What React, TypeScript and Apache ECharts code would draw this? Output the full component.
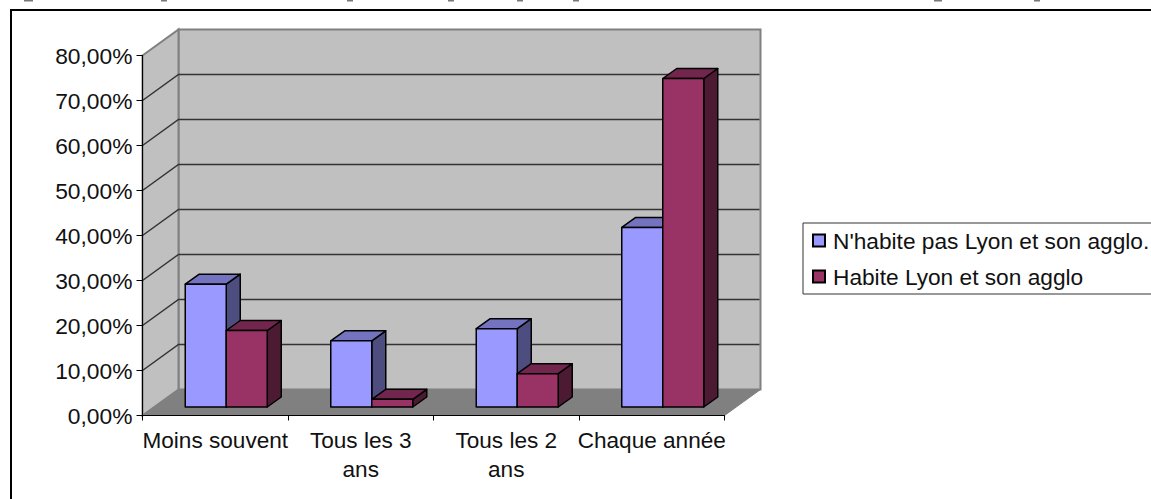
import React, { useEffect, useRef } from "react";
import * as echarts from "echarts";

const categories = ["Moins souvent", "Tous les 3\nans", "Tous les 2\nans", "Chaque année"];
const seriesNames = ["N'habite pas Lyon et son agglo.", "Habite Lyon et son agglo"];
const outsideLyon = [27.3, 14.7, 17.4, 39.9];
const lyon = [17.0, 1.7, 7.4, 73.0];
const yTicks = [0, 10, 20, 30, 40, 50, 60, 70, 80];
const yTickLabels = ["0,00%", "10,00%", "20,00%", "30,00%", "40,00%", "50,00%", "60,00%", "70,00%", "80,00%"];

const FONT = '"Liberation Sans", Arial, sans-serif';
const WALL_DX = 36;
const WALL_DY = 26;
const BAR_SHIFT_X = 11;
const BAR_SHIFT_Y = 8.5;
const BAR_DX = 14;
const BAR_DY = 10;
const BAR_RATIO = 41 / 145.5;

const wallsItem = (params: any, api: any) => {
  const cs = params.coordSys;
  const l = cs.x, r = cs.x + cs.width, t = cs.y, b = cs.y + cs.height;
  const gray = "#808080";
  const children: any[] = [
    { type: "polygon", shape: { points: [[l + WALL_DX, t - WALL_DY], [r + WALL_DX, t - WALL_DY], [r + WALL_DX, b - WALL_DY], [l + WALL_DX, b - WALL_DY]] }, style: { fill: "#C0C0C0", stroke: gray, lineWidth: 2 } },
    { type: "polygon", shape: { points: [[l, t], [l + WALL_DX, t - WALL_DY], [l + WALL_DX, b - WALL_DY], [l, b]] }, style: { fill: "#C0C0C0", stroke: gray, lineWidth: 2 } },
    { type: "polygon", shape: { points: [[l, b], [l + WALL_DX, b - WALL_DY], [r + WALL_DX, b - WALL_DY], [r, b]] }, style: { fill: gray, stroke: gray, lineWidth: 1 } },
  ];
  yTicks.slice(1, -1).forEach((v) => {
    const y = api.coord([0, v])[1];
    children.push({ type: "polyline", shape: { points: [[l, y], [l + WALL_DX, y - WALL_DY], [r + WALL_DX - 1, y - WALL_DY]] }, style: { fill: "none", stroke: "#333", lineWidth: 1.5 } });
  });
  return { type: "group", children };
};

const barItem = (side: number, front: string, top: string, right: string) => (_: any, api: any) => {
  const c = api.value(0);
  const p = api.coord([c, api.value(1)]);
  const base = api.coord([c, 0]);
  const w = api.size([1, 0])[0] * BAR_RATIO;
  const x0 = p[0] + BAR_SHIFT_X + (side < 0 ? -w : 0);
  const x1 = x0 + w;
  const yT = p[1] - BAR_SHIFT_Y;
  const yB = base[1] - BAR_SHIFT_Y;
  const stroke = { stroke: "#000", lineWidth: 1.5, lineJoin: "round" };
  return {
    type: "group",
    children: [
      { type: "polygon", shape: { points: [[x1, yT], [x1 + BAR_DX, yT - BAR_DY], [x1 + BAR_DX, yB - BAR_DY], [x1, yB]] }, style: { fill: right, ...stroke } },
      { type: "polygon", shape: { points: [[x0, yT], [x0 + BAR_DX, yT - BAR_DY], [x1 + BAR_DX, yT - BAR_DY], [x1, yT]] }, style: { fill: top, ...stroke } },
      { type: "polygon", shape: { points: [[x0, yT], [x1, yT], [x1, yB], [x0, yB]] }, style: { fill: front, ...stroke } },
    ],
  };
};

const clippedDescenders = [
  [24, 9, 1.5], [161, 6, 1.5], [347, 6, 1.5], [448, 6, 1.5], [517, 6, 1.5], [573, 6, 1.5], [934, 8, 1.5], [1034, 6, 1.5],
];

export default function App() {
  const ref = useRef<HTMLDivElement>(null);
  useEffect(() => {
    const chart = echarts.init(ref.current!, undefined, { renderer: "svg" });
    chart.setOption({
      animation: false,
      backgroundColor: "#fff",
      grid: { left: 142.5, top: 55.5, width: 582, height: 360, containLabel: false },
      legend: {
        data: seriesNames,
        orient: "vertical",
        left: 812,
        top: 229,
        padding: 0,
        itemWidth: 12,
        itemHeight: 12,
        itemGap: 13,
        icon: "rect",
        textStyle: { fontFamily: FONT, fontSize: 22.7, color: "#111", padding: [0, 0, 0, 3] },
      },
      xAxis: {
        type: "category",
        data: categories,
        z: 5,
        axisLine: { lineStyle: { color: "#000", width: 1 } },
        axisTick: { show: true, length: 5, alignWithLabel: false, lineStyle: { color: "#000" } },
        axisLabel: { interval: 0, margin: 10, fontFamily: FONT, fontSize: 22.6, color: "#111", lineHeight: 29 },
      },
      yAxis: {
        type: "value",
        min: 0,
        max: 80,
        interval: 10,
        z: 5,
        splitLine: { show: false },
        axisLine: { show: true, lineStyle: { color: "#000", width: 1 } },
        axisTick: { show: true, length: 6, lineStyle: { color: "#000" } },
        axisLabel: {
          margin: 10,
          fontFamily: FONT,
          fontSize: 22.8,
          color: "#111",
          formatter: (v: number) => yTickLabels[yTicks.indexOf(v)],
        },
      },
      series: [
        { type: "custom", name: "walls", z: 1, silent: true, clip: false, renderItem: wallsItem, data: [[0, 0]], encode: { x: 0, y: 1 } },
        {
          type: "custom", name: seriesNames[0], z: 2, clip: false,
          itemStyle: { color: "#9999FF", borderColor: "#000", borderWidth: 1.5 },
          renderItem: barItem(-1, "#9999FF", "#7373BF", "#4D4D80"),
          data: outsideLyon.map((v, i) => [i, v]), encode: { x: 0, y: 1 },
        },
        {
          type: "custom", name: seriesNames[1], z: 3, clip: false,
          itemStyle: { color: "#993366", borderColor: "#000", borderWidth: 1.5 },
          renderItem: barItem(1, "#993366", "#73264D", "#4D1A33"),
          data: lyon.map((v, i) => [i, v]), encode: { x: 0, y: 1 },
        },
      ],
      graphic: [
        { type: "rect", z: 100, shape: { x: 11, y: 10, width: 1200, height: 600 }, style: { fill: "none", stroke: "#000", lineWidth: 2 } },
        { type: "rect", z: 0, shape: { x: 803, y: 223, width: 400, height: 71 }, style: { fill: "#fff", stroke: "#333", lineWidth: 1 } },
        ...clippedDescenders.map(([x, w, h]) => ({ type: "rect", z: 100, shape: { x, y: 0, width: w, height: h }, style: { fill: "#777" } })),
      ],
    });
    return () => chart.dispose();
  }, []);
  return <div ref={ref} style={{ position: "fixed", left: 0, top: 0, width: 1151, height: 499, overflow: "hidden" }} />;
}
